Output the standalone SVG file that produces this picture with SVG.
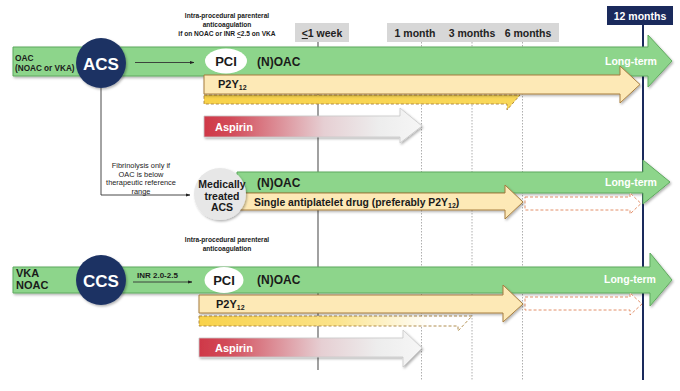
<svg xmlns="http://www.w3.org/2000/svg" width="680" height="391" viewBox="0 0 680 391">
<style>
text{font-family:"Liberation Sans",Arial,sans-serif;font-weight:bold}
.green{fill:#8dd58b;stroke:#5fa95e;stroke-width:1}
.yel{fill:#fde9b6;stroke:#a67c3e;stroke-width:1}
.gold{stroke:#a8823c;stroke-width:0.9;stroke-dasharray:3 2}
.dout{fill:#fff;stroke:#e0845a;stroke-width:0.9;stroke-dasharray:3 2}
.asp{fill:url(#aspG);stroke:#c8c8c8;stroke-width:0.8}
.navy{fill:#1c3364}
.wt{fill:#fff}
.dk{fill:#1a1a1a}
.small{font-size:6.6px;fill:#1a1a1a}
.fib{font-size:7.4px;font-weight:normal;fill:#1a1a1a}
.lt{font-size:10.5px;fill:#fff}
.hdr{font-size:10.5px;fill:#222}
.dot{stroke:#9a9a9a;stroke-width:0.8;stroke-dasharray:1.5 1.5}
.conn{stroke:#333;stroke-width:0.9;fill:none}
</style>
<defs>
<linearGradient id="aspG" x1="0" y1="0" x2="1" y2="0">
<stop offset="0" stop-color="#cf3848"/>
<stop offset="0.12" stop-color="#d24a58"/>
<stop offset="0.55" stop-color="#e6cfd3"/>
<stop offset="0.8" stop-color="#ededed"/>
<stop offset="1" stop-color="#f6f6f6"/>
</linearGradient>
<linearGradient id="goldG1" x1="0" y1="0" x2="1" y2="0">
<stop offset="0" stop-color="#f8d24a"/>
<stop offset="1" stop-color="#f9d85a"/>
</linearGradient>
<linearGradient id="goldG3" x1="0" y1="0" x2="1" y2="0">
<stop offset="0" stop-color="#f8d24a"/>
<stop offset="0.5" stop-color="#fbe38a"/>
<stop offset="0.85" stop-color="#ffffff"/>
<stop offset="1" stop-color="#ffffff"/>
</linearGradient>
<filter id="sh" x="-10%" y="-30%" width="120%" height="160%">
<feDropShadow dx="1.2" dy="1.5" stdDeviation="1.2" flood-color="#000" flood-opacity="0.3"/>
</filter>
<marker id="ah" viewBox="0 0 6 6" refX="5.5" refY="3" markerWidth="5" markerHeight="5" orient="auto">
<path d="M0,0.8 L6,3 L0,5.2 Z" fill="#222"/>
</marker>
</defs>

<!-- time grid -->
<g id="timeline">
<rect x="295" y="23" width="54" height="19" fill="#d7d7d7"/>
<text class="hdr" x="322" y="37" text-anchor="middle"><tspan text-decoration="underline">&lt;</tspan>1 week</text>
<rect x="387" y="23" width="172" height="19" fill="#d7d7d7"/>
<text class="hdr" x="415" y="37" text-anchor="middle">1 month</text>
<text class="hdr" x="472" y="37" text-anchor="middle">3 months</text>
<text class="hdr" x="528" y="37" text-anchor="middle">6 months</text>
<rect x="607" y="6" width="66" height="19" fill="#1a2a5c"/>
<text x="640" y="20" text-anchor="middle" style="font-size:10.5px;fill:#fff">12 months</text>
<line x1="318" y1="42" x2="318" y2="370" stroke="#6e6e6e" stroke-width="1.3"/>
<line class="dot" x1="421.5" y1="42" x2="421.5" y2="381"/>
<line class="dot" x1="472" y1="42" x2="472" y2="381"/>
<line class="dot" x1="522.5" y1="42" x2="522.5" y2="381"/>
<line x1="643" y1="25" x2="643" y2="380" stroke="#1a2a5c" stroke-width="2"/>
</g>

<!-- Row 1 : ACS -->
<g id="row1-bars">
<path class="green" filter="url(#sh)" d="M13,47 H648 V35 L672,61 L648,87 V76 H13 Z"/>
<text class="lt" x="605" y="65">Long-term</text>
<path class="gold" fill="url(#goldG1)" d="M204,95 H520 L507,110 V104 H204 Z"/>
<path class="yel" filter="url(#sh)" d="M204,75 H620 V66 L640,84.5 L620,103 V94 H204 Z"/>
<text class="dk" x="218" y="88" style="font-size:11px">P2Y<tspan style="font-size:7px" dy="2">12</tspan></text>
<path class="asp" filter="url(#sh)" d="M204,116 H400 V108 L422,126 L400,143 V137 H204 Z"/>
<text class="wt" x="215" y="130.5" style="font-size:11px">Aspirin</text>
</g>
<g id="row1-oac-label">
<text class="dk" x="15" y="61" style="font-size:8.4px">OAC</text>
<text class="dk" x="15" y="71" style="font-size:8.2px">(NOAC or VKA)</text>
</g>
<g id="acs">
<circle class="navy" cx="101" cy="63" r="25" filter="url(#sh)"/>
<text class="wt" x="101" y="69.5" text-anchor="middle" style="font-size:17px">ACS</text>
</g>
<g id="pci1">
<ellipse cx="226" cy="61" rx="21" ry="12.5" fill="#fff"/>
<text class="dk" x="226" y="66" text-anchor="middle" style="font-size:13px">PCI</text>
<text class="dk" x="257" y="66" style="font-size:12px">(N)OAC</text>
</g>
<g id="note1">
<text class="small" x="227" y="18" text-anchor="middle">Intra-procedural parenteral</text>
<text class="small" x="227" y="27" text-anchor="middle">anticoagulation</text>
<text class="small" x="227" y="36" text-anchor="middle">if on NOAC or INR <tspan text-decoration="underline">&lt;</tspan>2.5 on VKA</text>
</g>

<!-- Row 2 : Medically treated -->
<g id="row2-bars">
<path class="green" filter="url(#sh)" d="M237,172 H643 V160 L670,182 L643,204 V193 H237 Z"/>
<text class="lt" x="605" y="186">Long-term</text>
<path class="dout" d="M525,197 H630 V193 L641,203.5 L630,214 V210 H525 Z"/>
<path class="yel" filter="url(#sh)" d="M240,193 H505 V185 L523,202 L505,219 V210 H240 Z"/>
<text class="dk" x="257" y="187" style="font-size:12px">(N)OAC</text>
<text class="dk" x="254" y="206" style="font-size:10.4px">Single antiplatelet drug (preferably P2Y<tspan style="font-size:7px" dy="1.5">12</tspan><tspan dy="-1.5">)</tspan></text>
</g>
<g id="medical">
<circle cx="220" cy="194" r="26" fill="#e7e7e7" filter="url(#sh)"/>
<text class="dk" x="222" y="188" text-anchor="middle" style="font-size:10.5px">Medically</text>
<text class="dk" x="222" y="199.5" text-anchor="middle" style="font-size:10.5px">treated</text>
<text class="dk" x="222" y="211" text-anchor="middle" style="font-size:10.5px">ACS</text>
</g>
<g id="note2">
<text class="fib" x="141" y="168" text-anchor="middle">Fibrinolysis only if</text>
<text class="fib" x="141" y="176.5" text-anchor="middle">OAC is below</text>
<text class="fib" x="141" y="185" text-anchor="middle">therapeutic reference</text>
<text class="fib" x="141" y="193.5" text-anchor="middle">range</text>
</g>

<!-- Row 3 : CCS -->
<g id="row3-bars">
<path class="green" filter="url(#sh)" d="M13,267 H650 V253 L672,280 L650,306 V293 H13 Z"/>
<text class="lt" x="604" y="283">Long-term</text>
<path class="dout" d="M525,297 H630 V293 L642,304 L630,315 V310 H525 Z"/>
<path class="gold" fill="url(#goldG3)" d="M199,316 H472 L458,331 V326 H199 Z"/>
<path class="yel" filter="url(#sh)" d="M199,295 H503 V285 L523,304 L503,322 V313 H199 Z"/>
<text class="dk" x="216" y="308" style="font-size:11px">P2Y<tspan style="font-size:7px" dy="2">12</tspan></text>
<path class="asp" filter="url(#sh)" d="M199,338 H403 V330 L422,348 L403,367 V357 H199 Z"/>
<text class="wt" x="215" y="352" style="font-size:11px">Aspirin</text>
</g>
<g id="row3-oac-label">
<text class="dk" x="16" y="277" style="font-size:11px">VKA</text>
<text class="dk" x="16" y="289" style="font-size:11px">NOAC</text>
</g>
<g id="ccs">
<circle class="navy" cx="101" cy="280" r="25" filter="url(#sh)"/>
<text class="wt" x="101" y="286.5" text-anchor="middle" style="font-size:17px">CCS</text>
</g>
<g id="pci2">
<ellipse cx="224" cy="280" rx="19.5" ry="13" fill="#fff"/>
<text class="dk" x="224" y="285" text-anchor="middle" style="font-size:13px">PCI</text>
<text class="dk" x="257" y="284" style="font-size:12px">(N)OAC</text>
</g>
<g id="note3">
<text class="small" x="227" y="242" text-anchor="middle">Intra-procedural parenteral</text>
<text class="small" x="227" y="251" text-anchor="middle">anticoagulation</text>
</g>

<!-- connectors -->
<g id="connectors">
<line class="conn" x1="135" y1="62.5" x2="194" y2="62.5" marker-end="url(#ah)"/>
<polyline class="conn" stroke="#888" points="101,88 101,195 190,195" marker-end="url(#ah)"/>
<line class="conn" x1="133" y1="282" x2="192" y2="282" marker-end="url(#ah)"/>
<text class="dk" x="137" y="278" style="font-size:8px">INR 2.0-2.5</text>
</g>
</svg>
